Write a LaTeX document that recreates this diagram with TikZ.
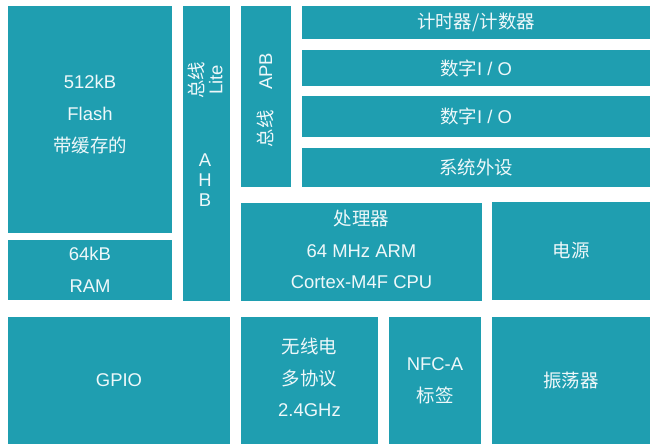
\documentclass[tikz,border=0pt]{standalone}
\usepackage{fontspec}
\setmainfont{Liberation Sans}
\newfontfamily\cjk{Noto Sans CJK SC}
\definecolor{blockteal}{HTML}{1F9EB0}
\definecolor{blocktext}{HTML}{EEF8FA}
\tikzset{
  blk/.style={fill=blockteal, text=blocktext, inner sep=0pt, align=center,
    font=\fontsize{10.5}{18}\selectfont},
}

\begin{document}
\begin{tikzpicture}[x=0.02cm, y=-0.02cm]
\useasboundingbox (0,0) rectangle (650,444);
\node[blk, minimum width=3.28cm, minimum height=4.54cm] (flash) at (90,119.5) {};
\node[blk] (flashtxt) at (90,114.5) {512kB\\Flash\\{\cjk 带缓存的}};
\node[blk, minimum width=3.28cm, minimum height=1.20cm] (ram) at (90,270) {64kB\\RAM};
\node[blk, minimum width=0.94cm, minimum height=5.90cm] (ahb) at (206.5,153.5) {};
\node[blk, rotate=90, font=\fontsize{10.5}{11}\selectfont] (ahblite) at (205,80) {{\cjk 总线}\\Lite};
\node[blk, font=\fontsize{10.5}{11.3}\selectfont] (ahbtxt) at (205,180) {A\\H\\B};
\node[blk, minimum width=1.00cm, minimum height=3.62cm] (apb) at (266,96.5) {};
\node[blk, rotate=90] (apbtxt) at (265,100) {{\cjk 总线}\hspace{1.1em}APB};
\node[blk, minimum width=6.96cm, minimum height=0.66cm] (timer) at (476,22.5) {\cjk 计时器/计数器};
\node[blk, minimum width=6.96cm, minimum height=0.72cm] (gpioa) at (476,68) {{\cjk 数字}I / O};
\node[blk, minimum width=6.96cm, minimum height=0.82cm] (gpiob) at (476,116.5) {{\cjk 数字}I / O};
\node[blk, minimum width=6.96cm, minimum height=0.78cm] (periph) at (476,167.5) {\cjk 系统外设};
\node[blk, minimum width=4.82cm, minimum height=1.96cm] (cpu) at (361.5,252) {};
\node[blk] (cputxt) at (361.5,249.5) {{\cjk 处理器}\\64 MHz ARM\\Cortex-M4F CPU};
\node[blk, minimum width=3.16cm, minimum height=1.96cm] (power) at (571,251) {\cjk 电源};
\node[blk, minimum width=4.44cm, minimum height=2.54cm] (gpio) at (119,380.5) {GPIO};
\node[blk, minimum width=2.74cm, minimum height=2.54cm] (radio) at (309.5,380.5) {};
\node[blk] (radiotxt) at (309.5,377.5) {{\cjk 无线电}\\{\cjk 多协议}\\2.4GHz};
\node[blk, minimum width=1.84cm, minimum height=2.54cm] (nfc) at (435,380.5) {NFC-A\\{\cjk 标签}};
\node[blk, minimum width=3.16cm, minimum height=2.54cm] (osc) at (571,380.5) {\cjk 振荡器};
\end{tikzpicture}
\end{document}
